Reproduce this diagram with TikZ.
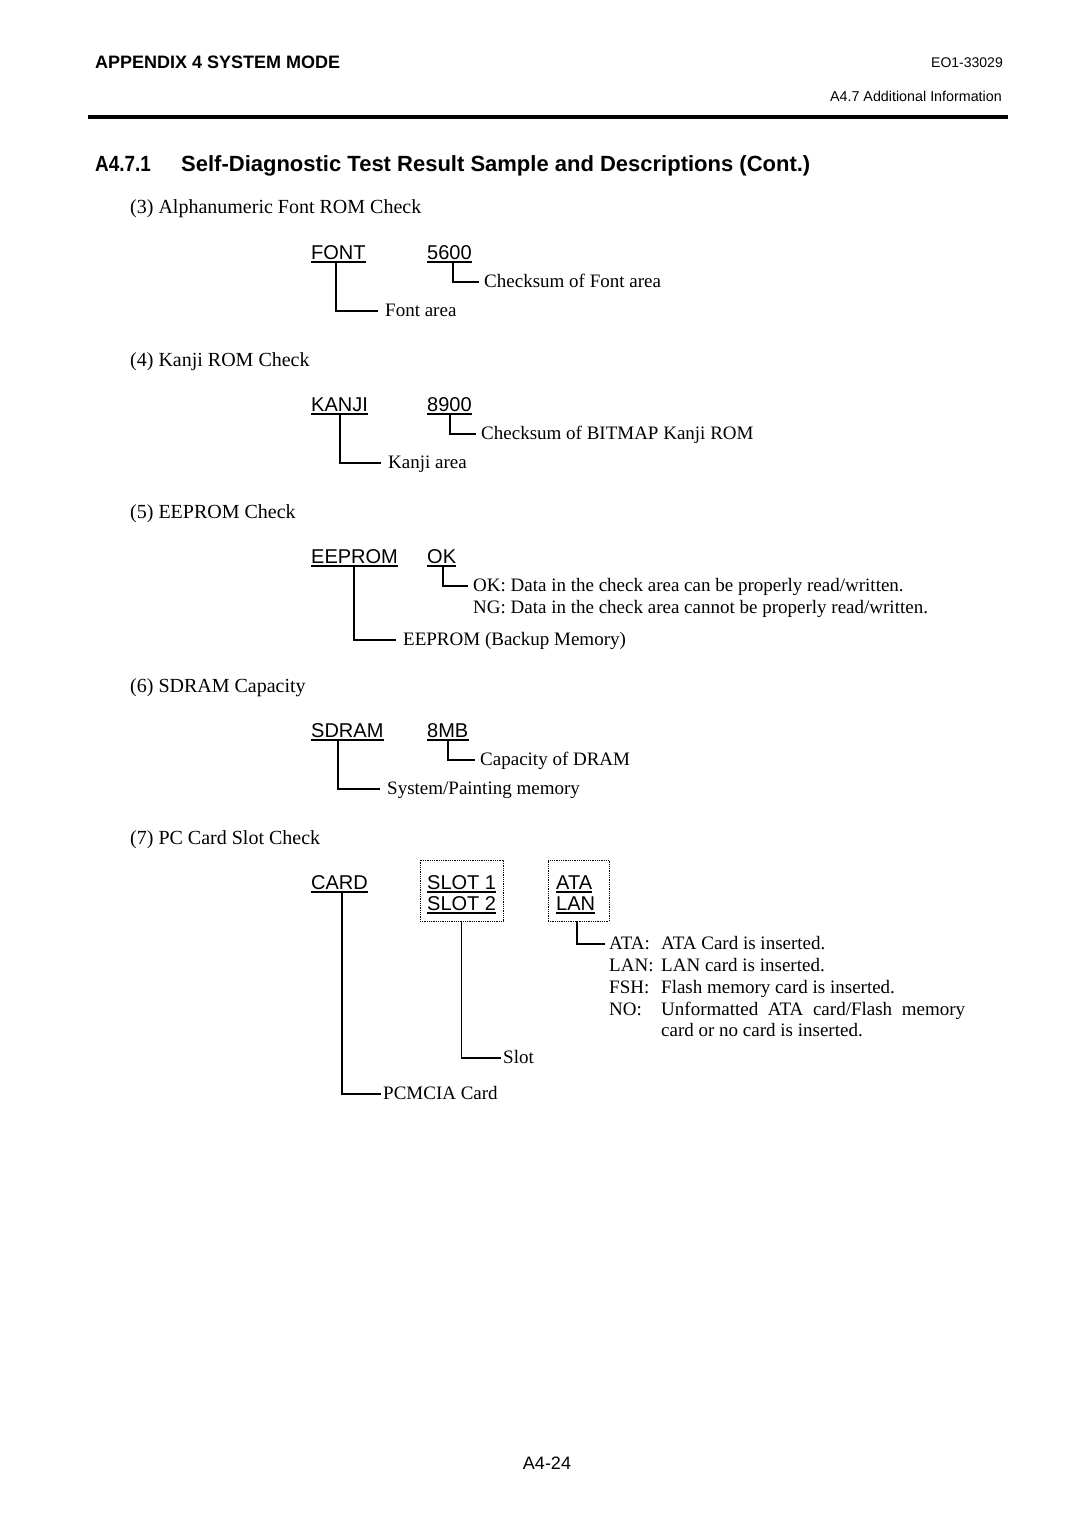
\documentclass[tikz,border=0pt]{standalone}
\usepackage{fontspec}
\setmainfont{Liberation Serif}
\newfontfamily\arialf{Liberation Sans}
\newfontfamily\arialnb{Liberation Sans}[FakeStretch=0.86]
\newcommand\myul[1]{\draw[uline] ([yshift=-3pt]#1.base west) -- ([yshift=-3pt]#1.base east);}
\begin{document}
\begin{tikzpicture}[x=1pt,y=-1pt,
  body/.style={font=\fontsize{19}{22}\selectfont, inner sep=0pt, anchor=base west},
  head/.style={font=\fontsize{20}{23}\selectfont, inner sep=0pt, anchor=base west},
  lbl/.style={font=\arialf\fontsize{20}{24}\selectfont, inner sep=0pt, anchor=base west},
  conn/.style={line width=1.1pt},
  uline/.style={line width=1.3pt},
  dbox/.style={draw, densely dotted, line width=0.8pt, inner sep=0pt}]

\useasboundingbox[fill=white] (0,0) rectangle (1080,1525);

% header
\node[font=\arialf\bfseries\fontsize{18}{20}\selectfont, inner sep=0pt, anchor=base west] (hdr) at (95,69) {APPENDIX 4 SYSTEM MODE};
\node[font=\arialf\fontsize{14}{17}\selectfont, inner sep=0pt, anchor=base east] (doc) at (1003,68) {EO1-33029};
\node[font=\arialf\fontsize{14.3}{17}\selectfont, inner sep=0pt, anchor=base east] (sec) at (1002,102) {A4.7 Additional Information};
\coordinate (rl) at (88,117);
\coordinate (rr) at (1008,117);
\draw[line width=4pt] (rl) -- (rr);

% title
\node[font=\arialnb\bfseries\fontsize{22}{26}\selectfont, inner sep=0pt, anchor=base west] (tnum) at (95,172) {A4.7.1};
\node[font=\arialf\bfseries\fontsize{22}{26}\selectfont, inner sep=0pt, anchor=base west] (title) at (181,172) {Self-Diagnostic Test Result Sample and Descriptions (Cont.)};

% (3)
\node[head] (h3) at (130,214) {(3) Alphanumeric Font ROM Check};
\node[lbl] (font) at (311,259) {FONT};
\node[lbl] (v5600) at (427,259) {5600};
\myul{font}\myul{v5600}
\node[body] (cfont) at (484,287) {Checksum of Font area};
\node[body] (farea) at (385,316) {Font area};
\draw[conn] ([xshift=26pt,yshift=-3pt]v5600.base west) |- ([xshift=-5pt,yshift=5pt]cfont.base west);
\draw[conn] ([xshift=25pt,yshift=-3pt]font.base west) |- ([xshift=-7pt,yshift=5pt]farea.base west);

% (4)
\node[head] (h4) at (130,366) {(4) Kanji ROM Check};
\node[lbl] (kanji) at (311,411) {KANJI};
\node[lbl] (v8900) at (427,411) {8900};
\myul{kanji}\myul{v8900}
\node[body] (ckanji) at (481,439) {Checksum of BITMAP Kanji ROM};
\node[body] (karea) at (388,468) {Kanji area};
\draw[conn] ([xshift=23pt,yshift=-3pt]v8900.base west) |- ([xshift=-5pt,yshift=5pt]ckanji.base west);
\draw[conn] ([xshift=29pt,yshift=-3pt]kanji.base west) |- ([xshift=-7pt,yshift=5pt]karea.base west);

% (5)
\node[head] (h5) at (130,518) {(5) EEPROM Check};
\node[lbl] (eeprom) at (311,563) {EEPROM};
\node[lbl] (ok) at (427,563) {OK};
\myul{eeprom}\myul{ok}
\node[body] (okd) at (473,591) {OK: Data in the check area can be properly read/written.};
\node[body] (ngd) at (473,613) {NG: Data in the check area cannot be properly read/written.};
\node[body] (eed) at (403,645) {EEPROM (Backup Memory)};
\draw[conn] ([xshift=16pt,yshift=-3pt]ok.base west) |- ([xshift=-5pt,yshift=5pt]okd.base west);
\draw[conn] ([xshift=43pt,yshift=-3pt]eeprom.base west) |- ([xshift=-7pt,yshift=5pt]eed.base west);

% (6)
\node[head] (h6) at (130,692) {(6) SDRAM Capacity};
\node[lbl] (sdram) at (311,737) {SDRAM};
\node[lbl] (mb) at (427,737) {8MB};
\myul{sdram}\myul{mb}
\node[body] (capd) at (480,765) {Capacity of DRAM};
\node[body] (sysd) at (387,794) {System/Painting memory};
\draw[conn] ([xshift=21pt,yshift=-3pt]mb.base west) |- ([xshift=-5pt,yshift=5pt]capd.base west);
\draw[conn] ([xshift=27pt,yshift=-3pt]sdram.base west) |- ([xshift=-7pt,yshift=5pt]sysd.base west);

% (7)
\node[head] (h7) at (130,844) {(7) PC Card Slot Check};
\node[lbl] (card) at (311,889) {CARD};
\myul{card}
\node[dbox, minimum width=83pt, minimum height=61pt] (slotbox) at (461.5,890.5) {};
\node[lbl] (slot1) at (427,889) {SLOT 1};
\node[lbl] (slot2) at (427,910) {SLOT 2};
\myul{slot1}\myul{slot2}
\node[dbox, minimum width=61pt, minimum height=61pt] (atabox) at (578.5,890.5) {};
\node[lbl] (ata) at (556,889) {ATA};
\node[lbl] (lan) at (556,910) {LAN};
\myul{ata}\myul{lan}

\node[body] (d1a) at (609,949) {ATA:};
\node[body] (d1b) at (661,949) {ATA Card is inserted.};
\node[body] (d2a) at (609,971) {LAN:};
\node[body] (d2b) at (661,971) {LAN card is inserted.};
\node[body] (d3a) at (609,993) {FSH:};
\node[body] (d3b) at (661,993) {Flash memory card is inserted.};
\node[body] (d4a) at (609,1015) {NO:};
\node[body] (d4b) at (661,1015) {\makebox[304pt][s]{Unformatted ATA card/Flash memory}};
\node[body] (d5b) at (661,1036) {card or no card is inserted.};
\node[body] (slotd) at (503,1063) {Slot};
\node[body] (pcd) at (383,1099) {PCMCIA Card};

\draw[conn] (atabox.south -| 577,0) |- ([xshift=-4pt,yshift=5pt]d1a.base west);
\draw[conn] (slotbox.south) |- ([xshift=-2pt,yshift=5pt]slotd.base west);
\draw[conn] ([xshift=31pt,yshift=-3pt]card.base west) |- ([xshift=-2pt,yshift=5pt]pcd.base west);

% footer
\node[font=\arialf\fontsize{18}{21}\selectfont, inner sep=0pt, anchor=base] (pg) at (547,1469) {A4-24};
\end{tikzpicture}
\end{document}
